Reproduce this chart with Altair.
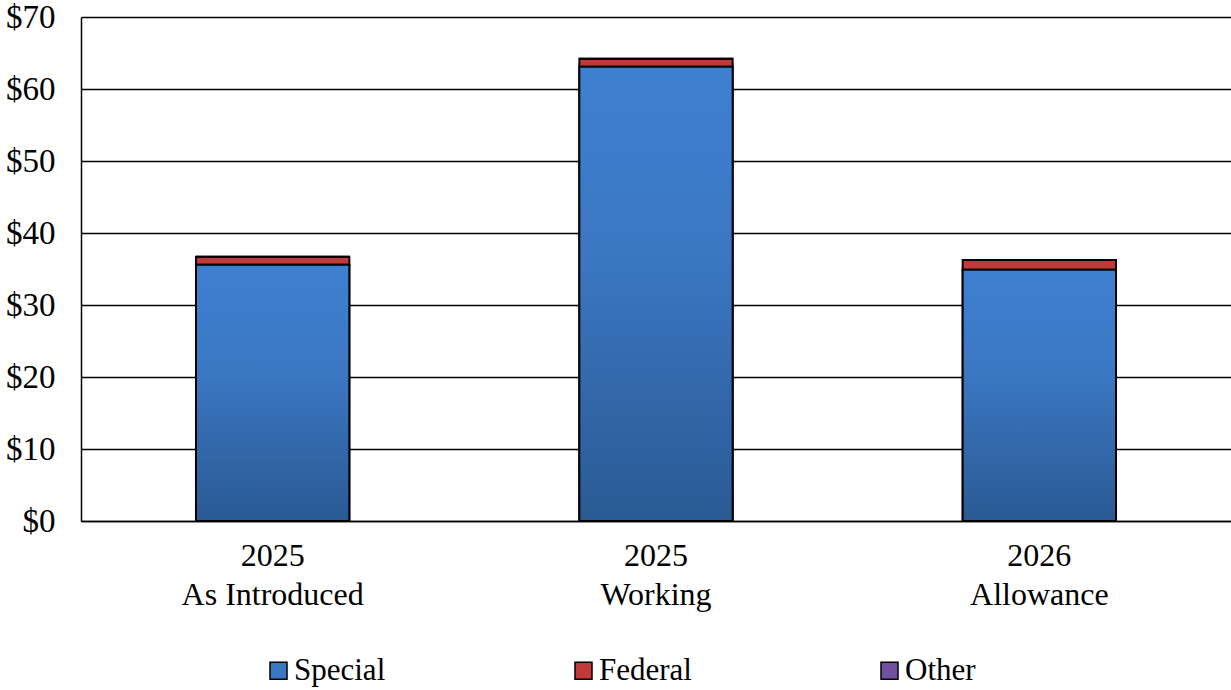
import altair as alt
import pandas as pd

categories = ["2025|As Introduced", "2025|Working", "2026|Allowance"]
series = ["Special", "Federal", "Other"]
special = [35.6, 63.1, 34.9]
federal = [1.1, 1.1, 1.35]
other = [0.0, 0.0, 0.0]
colors = ["#3b78c4", "#c0393b", "#7050a0"]
y_ticks = [0, 10, 20, 30, 40, 50, 60, 70]

rows = []
for i, c in enumerate(categories):
    for j, (s, vals) in enumerate(zip(series, [special, federal, other])):
        rows.append({"cat": c, "series": s, "value": vals[i], "ord": j})
df = pd.DataFrame(rows)

FONT = "Liberation Serif"

x_enc = alt.X("cat:N", sort=categories, title=None,
              scale=alt.Scale(paddingInner=0.6, paddingOuter=0.3),
              axis=alt.Axis(labelExpr="split(datum.label, '|')", labelAngle=0,
                            labelFontSize=32, labelLineHeight=39, labelPadding=19,
                            labelLimit=400,
                            ticks=False, domainColor="black", domainWidth=1.5,
                            labelFont=FONT, labelColor="black", grid=False))

bars = alt.Chart(df).mark_bar(stroke="black", strokeWidth=2).encode(
    x=x_enc,
    y=alt.Y("value:Q", stack="zero", title=None,
            scale=alt.Scale(domain=[0, 70], nice=False),
            axis=alt.Axis(values=y_ticks, labelExpr="'$' + datum.value",
                          labelFontSize=33, labelFont=FONT, labelColor="black",
                          ticks=False, labelPadding=26, grid=True,
                          gridColor="black", gridWidth=1.5,
                          domainColor="black", domainWidth=1.5)),
    color=alt.Color("series:N", sort=series,
                    scale=alt.Scale(domain=series, range=colors),
                    legend=alt.Legend(title=None, orient="none", direction="horizontal",
                                      legendX=182, legendY=638,
                                      symbolType="square", symbolSize=289,
                                      symbolStrokeColor="black", symbolStrokeWidth=1.5,
                                      labelFont=FONT, labelFontSize=31, labelColor="black",
                                      labelOffset=0, columnPadding=182)),
    order=alt.Order("ord:Q"),
)

grad = alt.Gradient(gradient="linear",
                    stops=[alt.GradientStop(color="#2a5a93", offset=0),
                           alt.GradientStop(color="#3b78c4", offset=0.6),
                           alt.GradientStop(color="#3e80d0", offset=1)],
                    x1=0, x2=0, y1=1, y2=0)

special_layer = alt.Chart(df[df["series"] == "Special"]).mark_bar(
    fill=grad, stroke="black", strokeWidth=2).encode(
    x=alt.X("cat:N", sort=categories),
    y=alt.Y("value:Q"),
)

chart = alt.layer(bars, special_layer).properties(
    width=1150, height=504,
    padding={"left": 81, "top": 17, "right": 0, "bottom": 169},
    autosize=alt.AutoSizeParams(type="none"),
).configure_view(stroke=None)

chart.save("out.html", embed_options={"renderer": "svg", "actions": False})
